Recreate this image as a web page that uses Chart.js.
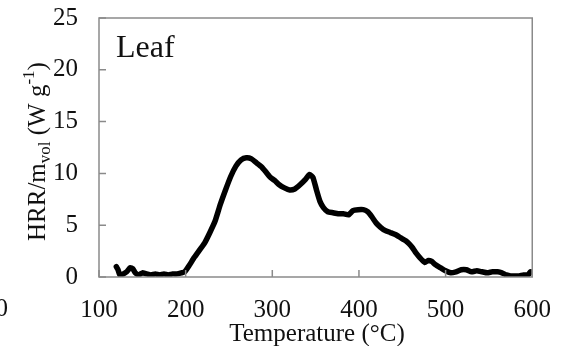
<!DOCTYPE html>
<html>
<head>
<meta charset="utf-8">
<script src="https://cdn.jsdelivr.net/npm/chart.js@4/dist/chart.umd.min.js"></script>
<style>
html,body{margin:0;padding:0;background:#fff;}
#wrap{width:569px;height:346px;position:relative;}
</style>
</head>
<body>
<div id="wrap"><canvas id="c" width="569" height="346"></canvas></div>
<script>
const temperature = [120,122,124,128,132,136,139,142,146,150,155,160,165,170,175,180,185,190,195,199,204,210,216,222,228,234,240,246,252,258,264,270,276,282,288,293,298,303,308,314,320,326,332,338,343,347,351,355,359,364,370,376,382,388,393,399,405,410,415,420,425,430,436,442,448,454,458,462,466,471,476,480,484,488,494,500,506,512,518,524,530,536,542,548,554,560,565,570,575,580,585,590,595,598];
const hrr = [1.0,0.7,0.2,0.3,0.5,0.9,0.8,0.4,0.2,0.4,0.3,0.2,0.3,0.2,0.3,0.2,0.3,0.3,0.4,0.5,1.1,1.9,2.6,3.3,4.3,5.4,7.0,8.4,9.7,10.7,11.3,11.5,11.4,11.0,10.6,10.1,9.6,9.3,8.9,8.6,8.4,8.5,8.9,9.4,9.9,9.6,8.4,7.3,6.7,6.3,6.2,6.1,6.1,6.0,6.4,6.5,6.5,6.3,5.8,5.2,4.8,4.5,4.3,4.1,3.8,3.5,3.2,2.8,2.3,1.8,1.4,1.6,1.5,1.2,0.9,0.6,0.4,0.5,0.7,0.7,0.5,0.6,0.5,0.4,0.5,0.5,0.4,0.2,0.1,0.1,0.1,0.2,0.2,0.5];
const xTicks = [100,200,300,400,500,600];
const yTicks = [0,5,10,15,20,25];
const panelLabel = "Leaf";
const xTitle = "Temperature (\u00B0C)";

const FONT = "'Liberation Serif', 'Times New Roman', serif";
const points = temperature.map((t,i)=>({x:t,y:hrr[i]}));

const decor = {
  id:'decor',
  afterDraw(chart){
    const ctx = chart.ctx, a = chart.chartArea;
    const xs = chart.scales.x, ys = chart.scales.y;
    ctx.save();
    ctx.strokeStyle = '#8a8a8a';
    ctx.lineWidth = 1.5;
    ctx.strokeRect(a.left, a.top, a.right-a.left, a.bottom-a.top);
    ctx.beginPath();
    yTicks.forEach(v=>{ const p = ys.getPixelForValue(v); ctx.moveTo(a.left,p); ctx.lineTo(a.left+7,p); });
    xTicks.forEach(v=>{ const p = xs.getPixelForValue(v); ctx.moveTo(p,a.bottom); ctx.lineTo(p,a.bottom-7); });
    ctx.stroke();
    ctx.fillStyle = '#111';
    // panel label
    ctx.font = '32px ' + FONT;
    ctx.textAlign = 'left'; ctx.textBaseline = 'alphabetic';
    ctx.fillText(panelLabel, a.left+17, 57);
    // x title
    ctx.font = '25px ' + FONT;
    ctx.textAlign = 'center';
    ctx.fillText(xTitle, 317, 341);
    // stray clipped label at far left
    ctx.textAlign = 'right';
    ctx.fillText('0', 8, 316);
    // y title (rotated, with sub/superscript)
    ctx.translate(45, 241);
    ctx.rotate(-Math.PI/2);
    ctx.textAlign = 'left';
    const parts = [
      {t:'HRR/m', f:25, dy:0},
      {t:'vol', f:17, dy:5},
      {t:' (W g', f:25, dy:0},
      {t:'-1', f:17, dy:-11},
      {t:')', f:25, dy:0}
    ];
    let x = 0;
    parts.forEach(p=>{
      ctx.font = p.f + 'px ' + FONT;
      ctx.fillText(p.t, x, p.dy);
      x += ctx.measureText(p.t).width;
    });
    ctx.restore();
  }
};

new Chart(document.getElementById('c'), {
  type:'scatter',
  data:{datasets:[{data:points, showLine:true, borderColor:'#000', backgroundColor:'#000', borderWidth:5.5, pointRadius:0, tension:0.15, borderJoinStyle:'round', borderCapStyle:'round'}]},
  options:{
    responsive:false, animation:false,
    layout:{padding:{left:0,right:34,top:18,bottom:0}},
    plugins:{legend:{display:false}, tooltip:{enabled:false}},
    scales:{
      x:{type:'linear', min:100, max:600,
        afterBuildTicks(s){ s.ticks = xTicks.map(v=>({value:v})); },
        afterFit(s){ s.height = 69; },
        grid:{display:false, drawTicks:false}, border:{display:false},
        ticks:{padding:18, color:'#111', font:{family:FONT, size:25}, maxRotation:0, autoSkip:false}
      },
      y:{type:'linear', min:0, max:25,
        afterBuildTicks(s){ s.ticks = yTicks.map(v=>({value:v})); },
        afterFit(s){ s.width = 99; s.paddingTop = 0; s.paddingBottom = 0; },
        grid:{display:false, drawTicks:false}, border:{display:false},
        ticks:{padding:21, color:'#111', font:{family:FONT, size:25}}
      }
    }
  },
  plugins:[decor]
});
</script>
</body>
</html>
